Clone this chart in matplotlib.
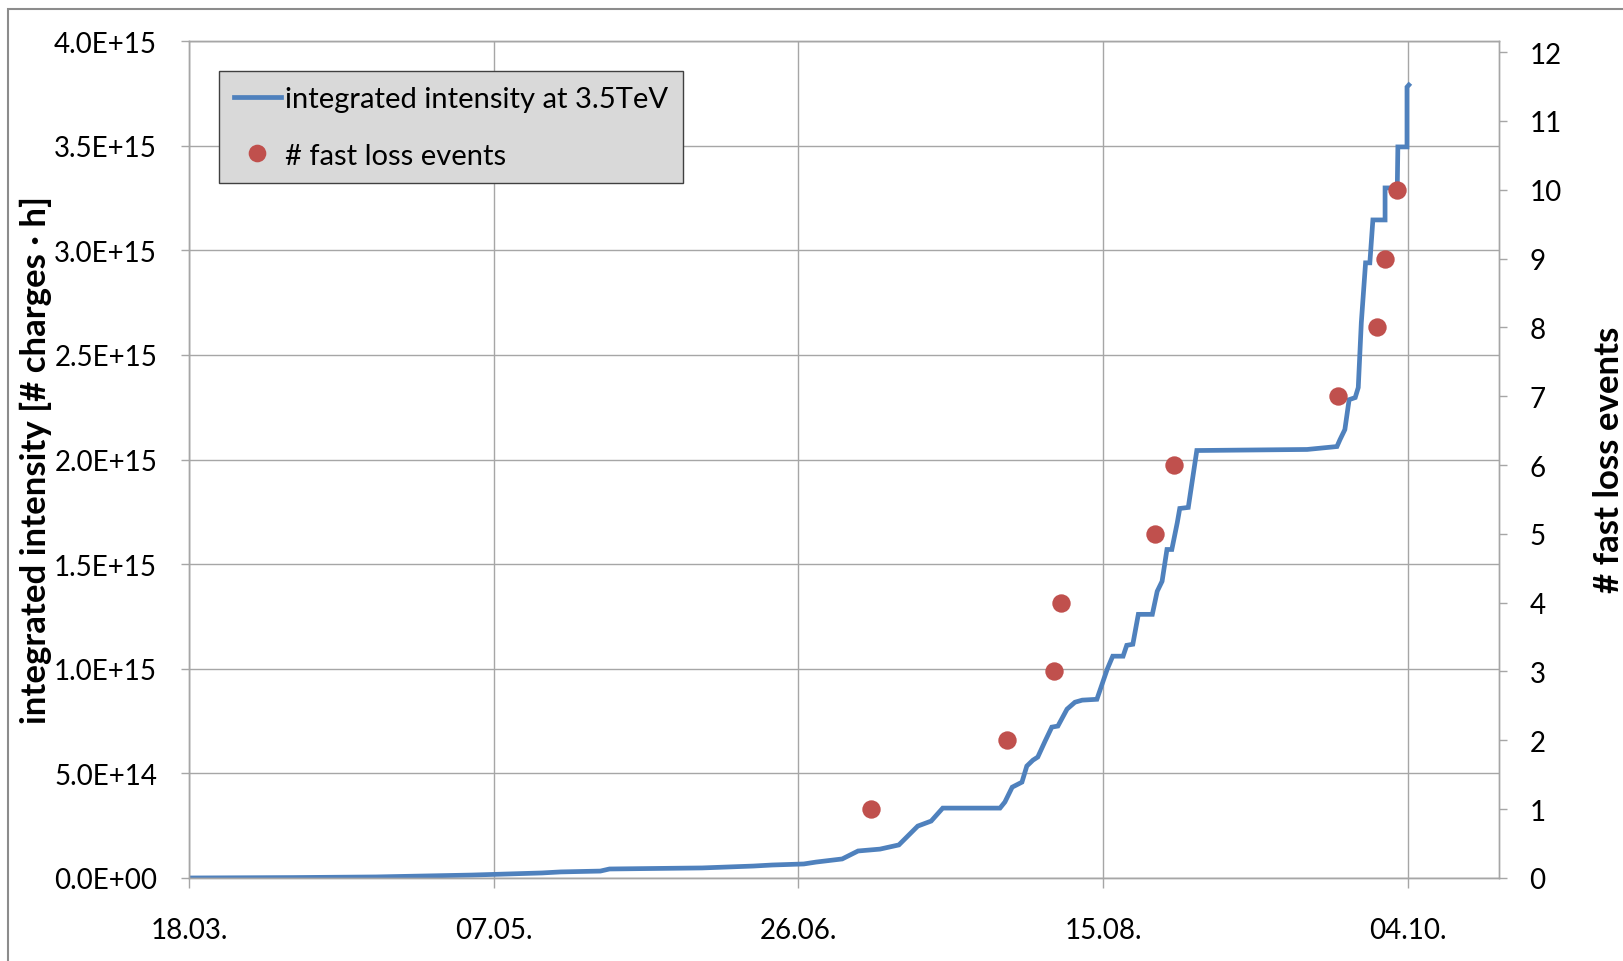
import datetime as dt
import matplotlib
matplotlib.use('Agg')
import matplotlib.pyplot as plt
import matplotlib.dates as mdates
from matplotlib.lines import Line2D
from matplotlib.patches import Rectangle
from matplotlib.ticker import FuncFormatter

plt.rcParams['font.family'] = ['Lato', 'DejaVu Sans']

start = dt.datetime(2010, 3, 18)

# integrated intensity at 3.5TeV (days after 18.03., value in 1E+14 charges*h)
intensity_days = [0, 17.1, 30.7, 46.4, 57.9, 61.0, 67.5, 69.0, 84.2, 92.6, 95.7,
                  100.9, 102.9, 107.2, 109.8, 113.4, 116.5, 119.6, 121.8, 123.7,
                  133.1, 133.9, 135.1, 136.7, 137.5, 138.5, 139.3, 140.5, 141.6,
                  142.6, 144.1, 145.4, 146.6, 149.0, 150.7, 151.6, 153.3, 153.9,
                  154.9, 155.8, 158.1, 158.9, 159.7, 160.5, 161.3, 162.2, 162.6,
                  164.0, 165.4, 183.5, 188.4, 188.9, 189.7, 190.4, 191.4, 191.9,
                  192.4, 193.1, 193.8, 194.3, 196.3, 196.3, 198.3, 198.4, 199.9,
                  199.9, 200.2]
intensity_e14 = [0, 0.02, 0.05, 0.14, 0.24, 0.29, 0.33, 0.43, 0.48, 0.57, 0.62,
                 0.67, 0.76, 0.91, 1.29, 1.38, 1.58, 2.48, 2.72, 3.34,
                 3.34, 3.63, 4.34, 4.58, 5.35, 5.63, 5.78, 6.54, 7.21,
                 7.26, 8.07, 8.40, 8.50, 8.54, 9.98, 10.60, 10.60, 11.12,
                 11.17, 12.60, 12.60, 13.70, 14.18, 15.70, 15.70, 16.99, 17.66,
                 17.71, 20.43, 20.48, 20.62, 20.95, 21.43, 22.86, 22.96, 23.44,
                 26.54, 29.40, 29.40, 31.45, 31.45, 32.98, 32.98, 34.94, 34.94,
                 37.80, 37.90]

# fast loss events
event_days = [111.9, 134.3, 142.0, 143.1, 158.6, 161.7, 188.5, 195.0, 196.3, 198.3]
event_count = [1, 2, 3, 4, 5, 6, 7, 8, 9, 10]

tick_days = [0, 50, 100, 150, 200]

t0 = mdates.date2num(start)
x_line = [t0 + d for d in intensity_days]
y_line = [v * 1e14 for v in intensity_e14]
x_ev = [t0 + d for d in event_days]

grid_col = '#a6a6a6'
blue = '#4f81bd'
red = '#c0504d'

fig = plt.figure(figsize=(16.23, 9.62), dpi=100)

# chart area border (Excel style)
fig.patches.append(Rectangle((8 / 1623, -0.1), 1.2, 1.1 - 10 / 962,
                             transform=fig.transFigure, fill=False,
                             edgecolor='#8c8c8c', lw=1.5))

ax = fig.add_axes([0.1165, 0.0863, 0.8071, 0.87])
ax2 = ax.twinx()

ax.plot(x_line, y_line, color=blue, lw=3.4, solid_joinstyle='miter')
ax2.scatter(x_ev, event_count, s=175, color=red, zorder=3, linewidths=0)

ax.set_xlim(t0, t0 + 215)
ax.set_ylim(0, 4e15)
ax2.set_ylim(0, 12.16)

ax.set_xticks([t0 + d for d in tick_days])
ax.xaxis.set_major_formatter(mdates.DateFormatter('%d.%m.'))
ax.set_yticks([i * 5e14 for i in range(9)])
ax.yaxis.set_major_formatter(FuncFormatter(lambda v, p: f'{v:.1E}'))
ax2.set_yticks(range(13))

ax.set_axisbelow(True)
ax.grid(True, color=grid_col, lw=1.0)

for a in (ax, ax2):
    for s in a.spines.values():
        s.set_color(grid_col)
        s.set_linewidth(1.0)

ax.tick_params(axis='x', length=7, width=1, color=grid_col, pad=21, labelsize=20)
ax.tick_params(axis='y', length=6, width=1, color=grid_col, pad=17, labelsize=20)
ax2.tick_params(axis='y', length=6, width=1, color=grid_col, pad=16, labelsize=20)

fig.text(36 / 1623, 0.522, 'integrated intensity [# charges · h]', rotation=90,
         ha='center', va='center', fontsize=25, fontweight='bold')
fig.text(1609 / 1623, 0.522, '# fast loss events', rotation=90,
         ha='center', va='center', fontsize=25, fontweight='bold')

handles = [Line2D([], [], color=blue, lw=3.4),
           Line2D([], [], color=red, marker='o', ls='none', markersize=12.7,
                  markeredgewidth=0)]
leg = ax2.legend(handles, ['integrated intensity at 3.5TeV', '# fast loss events'],
                 loc='upper left', bbox_to_anchor=(0.0232, 0.9637),
                 borderaxespad=0, fontsize=21, frameon=True, fancybox=False,
                 handlelength=1.6, handletextpad=0.14, labelspacing=1.05,
                 borderpad=0.5)
leg.get_frame().set_facecolor('#d9d9d9')
leg.get_frame().set_edgecolor('#404040')
leg.get_frame().set_linewidth(1.0)
leg.get_frame().set_alpha(1)

fig.savefig('out.png', dpi=100)
